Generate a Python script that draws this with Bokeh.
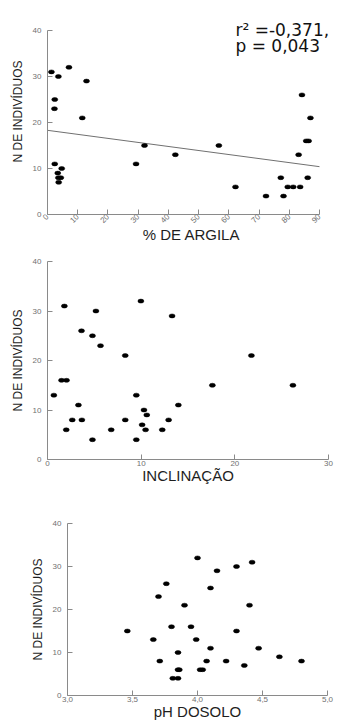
import math
from bokeh.plotting import figure
from bokeh.models import Range1d, FixedTicker, Label
from bokeh.embed import file_html
from bokeh.resources import INLINE

# ---------------- data ----------------
argila = [1.3, 7.1, 3.6, 12.9, 2.4, 2.3, 11.5, 2.4, 4.7, 3.4, 3.6, 4.4, 3.7, 29.3, 32.1,
          42.3, 56.7, 62.2, 72.3, 77.2, 78.1, 79.5, 81.3, 83.6, 83.1, 84.2, 85.6, 86.4, 87.0, 86.1]
n_argila = [31, 32, 30, 29, 25, 23, 21, 11, 10, 9, 8, 8, 7, 11, 15,
            13, 15, 6, 4, 8, 4, 6, 6, 6, 13, 26, 16, 16, 21, 8]
trend_x = [0, 90]
trend_y = [18.3, 10.4]

inclinacao = [0.68, 1.8, 1.5, 2.03, 2.0, 2.64, 3.3, 3.63, 3.67, 4.8, 4.8, 5.17, 5.66, 6.8, 8.3,
              8.3, 9.48, 9.48, 9.97, 10.1, 10.3, 10.47, 10.6, 12.25, 12.93, 13.3, 13.97, 17.6, 21.77, 26.2]
n_incl = [13, 31, 16, 16, 6, 8, 11, 26, 8, 25, 4, 30, 23, 6, 21,
          8, 13, 4, 32, 7, 10, 6, 9, 6, 8, 29, 11, 15, 21, 15]

ph = [3.46, 3.66, 3.70, 3.71, 3.76, 3.80, 3.81, 3.85, 3.85, 3.85, 3.86, 3.90, 3.95, 3.99, 4.00,
      4.02, 4.04, 4.07, 4.10, 4.10, 4.15, 4.22, 4.30, 4.30, 4.36, 4.40, 4.42, 4.47, 4.63, 4.80]
n_ph = [15, 13, 23, 8, 26, 16, 4, 4, 10, 6, 6, 21, 16, 13, 32,
        6, 6, 8, 11, 25, 29, 8, 30, 15, 7, 21, 31, 11, 9, 8]

y_ticks = [0, 10, 20, 30, 40]
argila_ticks = [0, 10, 20, 30, 40, 50, 60, 70, 80, 90]
incl_ticks = [0, 10, 20, 30]
ph_ticks = [3.0, 3.5, 4.0, 4.5, 5.0]
ph_tick_labels = ["3,0", "3,5", "4,0", "4,5", "5,0"]

y_label = "N DE INDIVÍDUOS"
stat_line1 = "r\u00b2 =-0,371,"
stat_line2 = "p = 0,043"

AXIS_COL = "#8a8a8a"
TICK_LBL_COL = "#707070"
LBL_COL = "#1e1e1e"
FONT = "Liberation Sans"


def make_fig(xr, yr, fw, fh, left, top, right, bottom, xb, yb):
    p = figure(frame_width=fw, frame_height=fh, x_range=Range1d(*xr), y_range=Range1d(*yr),
               output_backend="svg", toolbar_location=None,
               min_border_left=left, min_border_top=top,
               min_border_right=right, min_border_bottom=bottom)
    p.outline_line_color = None
    p.xgrid.visible = False
    p.ygrid.visible = False
    for ax in (p.xaxis[0], p.yaxis[0]):
        ax.axis_line_color = AXIS_COL
        ax.major_tick_line_color = AXIS_COL
        ax.minor_tick_line_color = None
        ax.major_tick_in = 5
        ax.major_tick_out = 0
        ax.major_label_text_font = FONT
        ax.major_label_text_font_size = "8px"
        ax.major_label_text_color = TICK_LBL_COL
        ax.axis_label_text_font = FONT
        ax.axis_label_text_font_style = "normal"
        ax.axis_label_text_color = LBL_COL
        ax.axis_label_text_font_size = "15px"
    p.xaxis[0].bounds = xb
    p.yaxis[0].bounds = yb
    p.yaxis[0].ticker = FixedTicker(ticks=y_ticks)
    p.yaxis[0].axis_label = y_label
    p.yaxis[0].axis_label_text_font_size = "12px"
    p.yaxis[0].major_label_standoff = 6
    p.yaxis[0].axis_label_standoff = 5
    p.xaxis[0].major_label_standoff = 1
    p.xaxis[0].axis_label_standoff = -2
    return p


def dots(p, xs, ys):
    p.ellipse(x=xs, y=ys, width=6, height=4, width_units="screen", height_units="screen",
              fill_color="black", line_color="black", line_width=0.5)


# ---- panel 1 ----
p1 = make_fig((0, 95.3), (0, 44.78), 288, 206, 47, 8, 4, 28, (0, 90), (0, 40))
p1.xaxis[0].ticker = FixedTicker(ticks=argila_ticks)
p1.xaxis[0].major_label_orientation = math.pi / 4
p1.xaxis[0].axis_label = "% DE ARGILA"
p1.line(trend_x, trend_y, line_color="#707070", line_width=1)
dots(p1, argila, n_argila)
p1.add_layout(Label(x=62.2, y=40.0, text=stat_line1, text_font="DejaVu Sans",
                    text_font_size="17px", text_color="#111111", text_baseline="alphabetic"))
p1.add_layout(Label(x=62.2, y=36.7, text=stat_line2, text_font="DejaVu Sans",
                    text_font_size="17px", text_color="#111111", text_baseline="alphabetic"))

# ---- panel 2 ----
p2 = make_fig((0, 30), (0, 40), 281, 198, 47, 15, 11, 20, (0, 30), (0, 40))
p2.xaxis[0].ticker = FixedTicker(ticks=incl_ticks)
p2.xaxis[0].axis_label = "INCLINAÇÃO"
dots(p2, inclinacao, n_incl)

# ---- panel 3 ----
p3 = make_fig((3.0, 5.0), (0, 40), 260, 172, 67, 37, 12, 20, (3.0, 5.0), (0, 40))
p3.xaxis[0].ticker = FixedTicker(ticks=ph_ticks)
p3.xaxis[0].major_label_overrides = {t: s for t, s in zip(ph_ticks, ph_tick_labels)}
p3.xaxis[0].axis_label = "pH DOSOLO"
dots(p3, ph, n_ph)

open("out.html", "w").write(file_html([p1, p2, p3], INLINE))
